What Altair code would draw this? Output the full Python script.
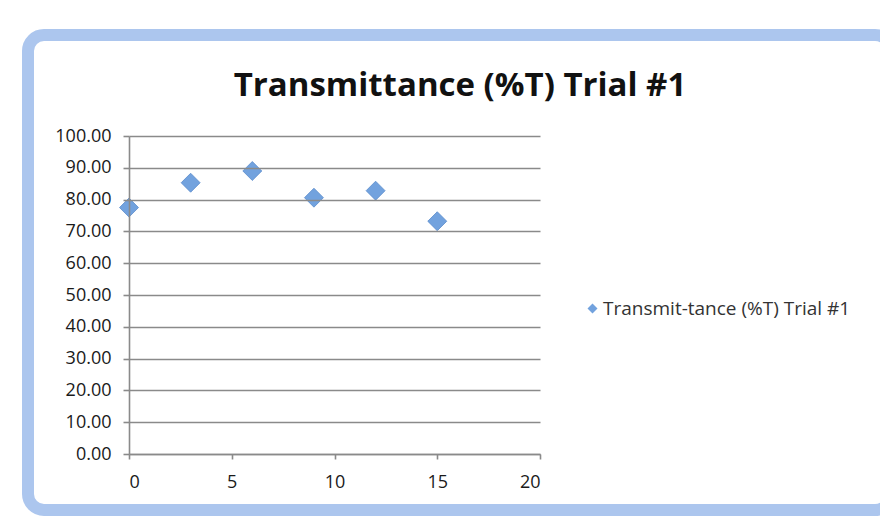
import altair as alt
import pandas as pd

# Data
x_vals = [0, 3, 6, 9, 12, 15]
y_vals = [77.5, 85.3, 89.0, 80.6, 82.8, 73.2]
series_name = "Transmit-tance (%T) Trial #1"
title_text = "Transmittance (%T) Trial #1"
y_ticks = [0, 10, 20, 30, 40, 50, 60, 70, 80, 90, 100]
x_ticks = [0, 5, 10, 15, 20]

df = pd.DataFrame({"x": x_vals, "y": y_vals, "series": [series_name] * len(x_vals)})

W, H = 411, 318
FONT = "Open Sans"
GRID = "#8a8a8a"

# decorative Excel-like chart frame (drawn behind everything)
frame = alt.Chart(pd.DataFrame({"d": [0]})).mark_rect(
    fill="white", stroke="#acc6ee", strokeWidth=12, cornerRadius=16
).encode(
    x=alt.value(-101), x2=alt.value(762), y=alt.value(-101), y2=alt.value(374)
)

title = alt.Chart(pd.DataFrame({"t": [title_text]})).mark_text(
    font=FONT, fontSize=33, fontWeight="bold", color="#111",
    align="center", baseline="alphabetic"
).encode(text="t:N", x=alt.value(331), y=alt.value(-40))

points = alt.Chart(df).mark_point(
    shape="diamond", filled=True, size=360, opacity=1,
    stroke="#5b8ccc", strokeWidth=0.8
).encode(
    x=alt.X("x:Q", scale=alt.Scale(domain=[0, 20], nice=False),
            axis=alt.Axis(values=x_ticks, title=None, grid=False, format="d",
                          labelFont=FONT, labelFontSize=18, labelColor="#1a1a1a",
                          labelPadding=14, tickSize=5, tickColor=GRID,
                          domainColor=GRID, domainWidth=1.6, tickWidth=1.6,
                          zindex=1)),
    y=alt.Y("y:Q", scale=alt.Scale(domain=[0, 100], nice=False),
            axis=alt.Axis(values=y_ticks, title=None, format=".2f", grid=True,
                          gridColor=GRID, gridWidth=1.6, labelFont=FONT,
                          labelFontSize=18, labelColor="#1a1a1a", labelPadding=12,
                          tickSize=6, tickColor=GRID, tickWidth=1.6,
                          domainColor=GRID, domainWidth=1.6, zindex=1)),
    color=alt.Color("series:N", scale=alt.Scale(range=["#72a2de"]),
                    legend=alt.Legend(title=None, orient="none", legendX=454,
                                      legendY=163, symbolType="diamond",
                                      symbolSize=100, labelFont=FONT,
                                      labelFontSize=19, labelColor="#333",
                                      labelOffset=1, padding=0, labelLimit=400,
                                      symbolStrokeWidth=0)),
)

chart = alt.layer(frame, title, points).properties(
    width=W, height=H,
    padding={"left": 121, "top": 128, "right": 340, "bottom": 62},
    autosize=alt.AutoSizeParams(type="none"),
).configure_view(stroke=None).configure(background="white")

chart.save("out.html", embed_options={"renderer": "svg", "actions": False})
